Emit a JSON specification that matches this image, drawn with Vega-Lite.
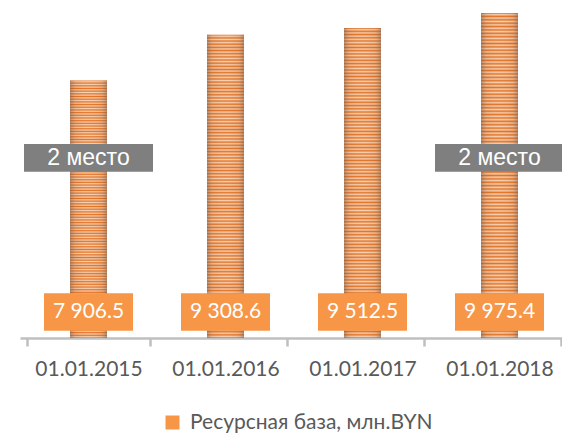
{
  "$schema": "https://vega.github.io/schema/vega-lite/v6.json",
  "width": 542,
  "height": 338,
  "autosize": {"type": "none"},
  "padding": {"left": 20, "top": 0, "right": 0, "bottom": 97},
  "background": "white",
  "config": {
    "view": {"stroke": null},
    "locale": {"number": {"decimal": ".", "thousands": " ", "grouping": [3], "currency": ["", ""]}}
  },
  "data": {
    "values": [
      {"date": "01.01.2015", "value": 7906.5, "place": "2 место"},
      {"date": "01.01.2016", "value": 9308.6},
      {"date": "01.01.2017", "value": 9512.5},
      {"date": "01.01.2018", "value": 9975.4, "place": "2 место"}
    ]
  },
  "encoding": {
    "x": {
      "field": "date",
      "type": "ordinal",
      "sort": null,
      "scale": {"range": [0, 548]},
      "axis": {
        "title": null,
        "labelAngle": 0,
        "labelFont": "Lato",
        "labelFontSize": 21,
        "labelColor": "#595959",
        "labelPadding": 12,
        "labelLimit": 200,
        "domainColor": "#bfbfbf",
        "domainWidth": 2.5,
        "tickColor": "#bfbfbf",
        "tickWidth": 2.5,
        "tickSize": 8,
        "tickBand": "extent"
      }
    }
  },
  "layer": [
    {
      "mark": {
        "type": "bar",
        "size": 37,
        "fill": {
          "gradient": "linear", "x1": 0, "y1": 0, "x2": 0, "y2": 1,
          "stops": [
            {"offset": 0, "color": "#e06c1b"}, {"offset": 0.0052, "color": "#f8d0b0"}, {"offset": 0.0104, "color": "#e06c1b"}, {"offset": 0.0156, "color": "#f8d0b0"}, {"offset": 0.0208, "color": "#e06c1b"}, {"offset": 0.026, "color": "#f8d0b0"}, {"offset": 0.0313, "color": "#e06c1b"}, {"offset": 0.0365, "color": "#f8d0b0"}, {"offset": 0.0417, "color": "#e06c1b"}, {"offset": 0.0469, "color": "#f8d0b0"}, {"offset": 0.0521, "color": "#e06c1b"}, {"offset": 0.0573, "color": "#f8d0b0"}, {"offset": 0.0625, "color": "#e06c1b"}, {"offset": 0.0677, "color": "#f8d0b0"}, {"offset": 0.0729, "color": "#e06c1b"}, {"offset": 0.0781, "color": "#f8d0b0"}, {"offset": 0.0833, "color": "#e06c1b"}, {"offset": 0.0885, "color": "#f8d0b0"}, {"offset": 0.0938, "color": "#e06c1b"}, {"offset": 0.099, "color": "#f8d0b0"}, {"offset": 0.1042, "color": "#e06c1b"}, {"offset": 0.1094, "color": "#f8d0b0"}, {"offset": 0.1146, "color": "#e06c1b"}, {"offset": 0.1198, "color": "#f8d0b0"},
            {"offset": 0.125, "color": "#e06c1b"}, {"offset": 0.1302, "color": "#f8d0b0"}, {"offset": 0.1354, "color": "#e06c1b"}, {"offset": 0.1406, "color": "#f8d0b0"}, {"offset": 0.1458, "color": "#e06c1b"}, {"offset": 0.151, "color": "#f8d0b0"}, {"offset": 0.1563, "color": "#e06c1b"}, {"offset": 0.1615, "color": "#f8d0b0"}, {"offset": 0.1667, "color": "#e06c1b"}, {"offset": 0.1719, "color": "#f8d0b0"}, {"offset": 0.1771, "color": "#e06c1b"}, {"offset": 0.1823, "color": "#f8d0b0"}, {"offset": 0.1875, "color": "#e06c1b"}, {"offset": 0.1927, "color": "#f8d0b0"}, {"offset": 0.1979, "color": "#e06c1b"}, {"offset": 0.2031, "color": "#f8d0b0"}, {"offset": 0.2083, "color": "#e06c1b"}, {"offset": 0.2135, "color": "#f8d0b0"}, {"offset": 0.2188, "color": "#e06c1b"}, {"offset": 0.224, "color": "#f8d0b0"}, {"offset": 0.2292, "color": "#e06c1b"}, {"offset": 0.2344, "color": "#f8d0b0"}, {"offset": 0.2396, "color": "#e06c1b"}, {"offset": 0.2448, "color": "#f8d0b0"},
            {"offset": 0.25, "color": "#e06c1b"}, {"offset": 0.2552, "color": "#f8d0b0"}, {"offset": 0.2604, "color": "#e06c1b"}, {"offset": 0.2656, "color": "#f8d0b0"}, {"offset": 0.2708, "color": "#e06c1b"}, {"offset": 0.276, "color": "#f8d0b0"}, {"offset": 0.2813, "color": "#e06c1b"}, {"offset": 0.2865, "color": "#f8d0b0"}, {"offset": 0.2917, "color": "#e06c1b"}, {"offset": 0.2969, "color": "#f8d0b0"}, {"offset": 0.3021, "color": "#e06c1b"}, {"offset": 0.3073, "color": "#f8d0b0"}, {"offset": 0.3125, "color": "#e06c1b"}, {"offset": 0.3177, "color": "#f8d0b0"}, {"offset": 0.3229, "color": "#e06c1b"}, {"offset": 0.3281, "color": "#f8d0b0"}, {"offset": 0.3333, "color": "#e06c1b"}, {"offset": 0.3385, "color": "#f8d0b0"}, {"offset": 0.3438, "color": "#e06c1b"}, {"offset": 0.349, "color": "#f8d0b0"}, {"offset": 0.3542, "color": "#e06c1b"}, {"offset": 0.3594, "color": "#f8d0b0"}, {"offset": 0.3646, "color": "#e06c1b"}, {"offset": 0.3698, "color": "#f8d0b0"},
            {"offset": 0.375, "color": "#e06c1b"}, {"offset": 0.3802, "color": "#f8d0b0"}, {"offset": 0.3854, "color": "#e06c1b"}, {"offset": 0.3906, "color": "#f8d0b0"}, {"offset": 0.3958, "color": "#e06c1b"}, {"offset": 0.401, "color": "#f8d0b0"}, {"offset": 0.4063, "color": "#e06c1b"}, {"offset": 0.4115, "color": "#f8d0b0"}, {"offset": 0.4167, "color": "#e06c1b"}, {"offset": 0.4219, "color": "#f8d0b0"}, {"offset": 0.4271, "color": "#e06c1b"}, {"offset": 0.4323, "color": "#f8d0b0"}, {"offset": 0.4375, "color": "#e06c1b"}, {"offset": 0.4427, "color": "#f8d0b0"}, {"offset": 0.4479, "color": "#e06c1b"}, {"offset": 0.4531, "color": "#f8d0b0"}, {"offset": 0.4583, "color": "#e06c1b"}, {"offset": 0.4635, "color": "#f8d0b0"}, {"offset": 0.4688, "color": "#e06c1b"}, {"offset": 0.474, "color": "#f8d0b0"}, {"offset": 0.4792, "color": "#e06c1b"}, {"offset": 0.4844, "color": "#f8d0b0"}, {"offset": 0.4896, "color": "#e06c1b"}, {"offset": 0.4948, "color": "#f8d0b0"},
            {"offset": 0.5, "color": "#e06c1b"}, {"offset": 0.5052, "color": "#f8d0b0"}, {"offset": 0.5104, "color": "#e06c1b"}, {"offset": 0.5156, "color": "#f8d0b0"}, {"offset": 0.5208, "color": "#e06c1b"}, {"offset": 0.526, "color": "#f8d0b0"}, {"offset": 0.5313, "color": "#e06c1b"}, {"offset": 0.5365, "color": "#f8d0b0"}, {"offset": 0.5417, "color": "#e06c1b"}, {"offset": 0.5469, "color": "#f8d0b0"}, {"offset": 0.5521, "color": "#e06c1b"}, {"offset": 0.5573, "color": "#f8d0b0"}, {"offset": 0.5625, "color": "#e06c1b"}, {"offset": 0.5677, "color": "#f8d0b0"}, {"offset": 0.5729, "color": "#e06c1b"}, {"offset": 0.5781, "color": "#f8d0b0"}, {"offset": 0.5833, "color": "#e06c1b"}, {"offset": 0.5885, "color": "#f8d0b0"}, {"offset": 0.5938, "color": "#e06c1b"}, {"offset": 0.599, "color": "#f8d0b0"}, {"offset": 0.6042, "color": "#e06c1b"}, {"offset": 0.6094, "color": "#f8d0b0"}, {"offset": 0.6146, "color": "#e06c1b"}, {"offset": 0.6198, "color": "#f8d0b0"},
            {"offset": 0.625, "color": "#e06c1b"}, {"offset": 0.6302, "color": "#f8d0b0"}, {"offset": 0.6354, "color": "#e06c1b"}, {"offset": 0.6406, "color": "#f8d0b0"}, {"offset": 0.6458, "color": "#e06c1b"}, {"offset": 0.651, "color": "#f8d0b0"}, {"offset": 0.6563, "color": "#e06c1b"}, {"offset": 0.6615, "color": "#f8d0b0"}, {"offset": 0.6667, "color": "#e06c1b"}, {"offset": 0.6719, "color": "#f8d0b0"}, {"offset": 0.6771, "color": "#e06c1b"}, {"offset": 0.6823, "color": "#f8d0b0"}, {"offset": 0.6875, "color": "#e06c1b"}, {"offset": 0.6927, "color": "#f8d0b0"}, {"offset": 0.6979, "color": "#e06c1b"}, {"offset": 0.7031, "color": "#f8d0b0"}, {"offset": 0.7083, "color": "#e06c1b"}, {"offset": 0.7135, "color": "#f8d0b0"}, {"offset": 0.7188, "color": "#e06c1b"}, {"offset": 0.724, "color": "#f8d0b0"}, {"offset": 0.7292, "color": "#e06c1b"}, {"offset": 0.7344, "color": "#f8d0b0"}, {"offset": 0.7396, "color": "#e06c1b"}, {"offset": 0.7448, "color": "#f8d0b0"},
            {"offset": 0.75, "color": "#e06c1b"}, {"offset": 0.7552, "color": "#f8d0b0"}, {"offset": 0.7604, "color": "#e06c1b"}, {"offset": 0.7656, "color": "#f8d0b0"}, {"offset": 0.7708, "color": "#e06c1b"}, {"offset": 0.776, "color": "#f8d0b0"}, {"offset": 0.7813, "color": "#e06c1b"}, {"offset": 0.7865, "color": "#f8d0b0"}, {"offset": 0.7917, "color": "#e06c1b"}, {"offset": 0.7969, "color": "#f8d0b0"}, {"offset": 0.8021, "color": "#e06c1b"}, {"offset": 0.8073, "color": "#f8d0b0"}, {"offset": 0.8125, "color": "#e06c1b"}, {"offset": 0.8177, "color": "#f8d0b0"}, {"offset": 0.8229, "color": "#e06c1b"}, {"offset": 0.8281, "color": "#f8d0b0"}, {"offset": 0.8333, "color": "#e06c1b"}, {"offset": 0.8385, "color": "#f8d0b0"}, {"offset": 0.8438, "color": "#e06c1b"}, {"offset": 0.849, "color": "#f8d0b0"}, {"offset": 0.8542, "color": "#e06c1b"}, {"offset": 0.8594, "color": "#f8d0b0"}, {"offset": 0.8646, "color": "#e06c1b"}, {"offset": 0.8698, "color": "#f8d0b0"},
            {"offset": 0.875, "color": "#e06c1b"}, {"offset": 0.8802, "color": "#f8d0b0"}, {"offset": 0.8854, "color": "#e06c1b"}, {"offset": 0.8906, "color": "#f8d0b0"}, {"offset": 0.8958, "color": "#e06c1b"}, {"offset": 0.901, "color": "#f8d0b0"}, {"offset": 0.9063, "color": "#e06c1b"}, {"offset": 0.9115, "color": "#f8d0b0"}, {"offset": 0.9167, "color": "#e06c1b"}, {"offset": 0.9219, "color": "#f8d0b0"}, {"offset": 0.9271, "color": "#e06c1b"}, {"offset": 0.9323, "color": "#f8d0b0"}, {"offset": 0.9375, "color": "#e06c1b"}, {"offset": 0.9427, "color": "#f8d0b0"}, {"offset": 0.9479, "color": "#e06c1b"}, {"offset": 0.9531, "color": "#f8d0b0"}, {"offset": 0.9583, "color": "#e06c1b"}, {"offset": 0.9635, "color": "#f8d0b0"}, {"offset": 0.9688, "color": "#e06c1b"}, {"offset": 0.974, "color": "#f8d0b0"}, {"offset": 0.9792, "color": "#e06c1b"}, {"offset": 0.9844, "color": "#f8d0b0"}, {"offset": 0.9896, "color": "#e06c1b"}, {"offset": 0.9948, "color": "#f8d0b0"},
            {"offset": 1, "color": "#e06c1b"}
          ]
        }
      },
      "encoding": {
        "y": {"field": "value", "type": "quantitative", "scale": {"domain": [0, 10375], "nice": false, "zero": true}, "axis": null}
      }
    },
    {
      "mark": {
        "type": "bar",
        "size": 37,
        "fill": {
          "gradient": "linear", "x1": 0, "y1": 0, "x2": 1, "y2": 0,
          "stops": [
            {"offset": 0, "color": "rgba(110,90,80,0.5)"},
            {"offset": 0.15, "color": "rgba(170,120,90,0.15)"},
            {"offset": 0.5, "color": "rgba(255,255,255,0.05)"},
            {"offset": 0.85, "color": "rgba(170,120,90,0.15)"},
            {"offset": 1, "color": "rgba(110,90,80,0.5)"}
          ]
        }
      },
      "encoding": {
        "y": {"field": "value", "type": "quantitative"}
      }
    },
    {
      "mark": {"type": "bar", "size": 89},
      "encoding": {
        "y": {"datum": 224, "type": "quantitative"},
        "y2": {"datum": 1372},
        "color": {
          "datum": "Ресурсная база, млн.BYN",
          "type": "nominal",
          "scale": {"range": ["#f79646"]},
          "legend": {
            "orient": "none",
            "legendX": 142,
            "legendY": 412,
            "title": null,
            "padding": 0,
            "symbolType": "square",
            "symbolSize": 196,
            "symbolStrokeWidth": 0,
            "labelFont": "Lato",
            "labelFontSize": 21,
            "labelColor": "#595959",
            "labelOffset": 7,
            "labelLimit": 400
          }
        }
      }
    },
    {
      "mark": {"type": "text", "font": "Lato", "fontSize": 21, "color": "white", "baseline": "middle"},
      "encoding": {
        "y": {"datum": 798, "type": "quantitative"},
        "text": {"field": "value", "type": "quantitative", "format": ",.1f"}
      }
    },
    {
      "transform": [{"filter": "datum.place != null"}],
      "mark": {"type": "bar", "size": 129, "color": "#7f7f7f"},
      "encoding": {
        "y": {"datum": 5103, "type": "quantitative"},
        "y2": {"datum": 5954}
      }
    },
    {
      "transform": [{"filter": "datum.place != null"}],
      "mark": {"type": "text", "font": "Liberation Sans", "fontSize": 23, "color": "white", "baseline": "middle"},
      "encoding": {
        "y": {"datum": 5527, "type": "quantitative"},
        "text": {"field": "place", "type": "nominal"}
      }
    }
  ]
}
